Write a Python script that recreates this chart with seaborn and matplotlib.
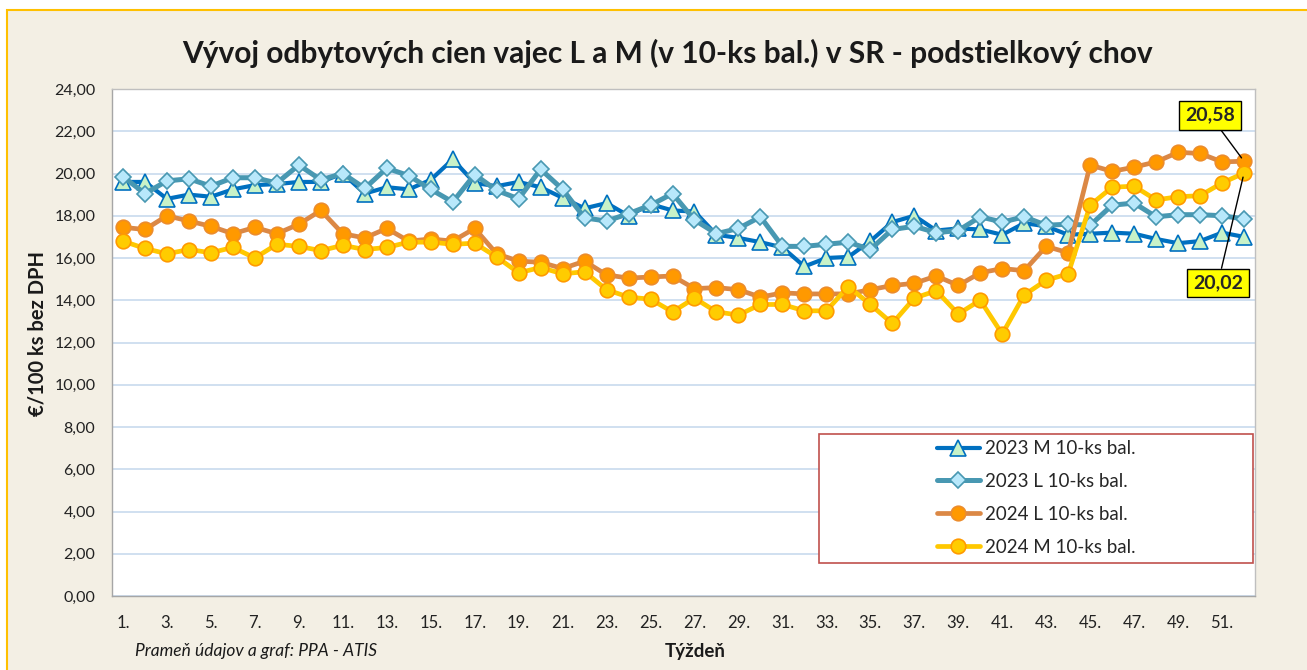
import numpy as np
import pandas as pd
import seaborn as sns
import matplotlib.pyplot as plt
from matplotlib.patches import Rectangle

# Weekly egg prices (EUR / 100 pcs excl. VAT), barn hens, 10-pack
weeks = list(range(1, 53))
m_2023 = [19.6, 19.6, 18.8, 19.0, 18.9, 19.25, 19.45, 19.5, 19.6, 19.6,
          20.0, 19.05, 19.35, 19.25, 19.7, 20.67, 19.55, 19.4, 19.6, 19.35,
          18.85, 18.35, 18.6, 18.0, 18.55, 18.25, 18.2, 17.1, 16.95, 16.75,
          16.5, 15.6, 16.0, 16.05, 16.8, 17.7, 18.0, 17.3, 17.4, 17.35,
          17.1, 17.65, 17.5, 17.1, 17.15, 17.2, 17.15, 16.9, 16.7, 16.8,
          17.2, 17.0]
l_2023 = [19.85, 19.05, 19.65, 19.75, 19.4, 19.8, 19.8, 19.55, 20.4, 19.7,
          20.0, 19.3, 20.25, 19.9, 19.25, 18.65, 19.95, 19.2, 18.8, 20.2,
          19.25, 17.9, 17.75, 18.1, 18.5, 19.05, 17.8, 17.15, 17.4, 17.95,
          16.55, 16.55, 16.65, 16.75, 16.4, 17.35, 17.5, 17.2, 17.3, 17.95,
          17.7, 17.95, 17.55, 17.6, 17.55, 18.5, 18.6, 17.95, 18.05, 18.05,
          18.0, 17.85]
l_2024 = [17.45, 17.35, 18.0, 17.75, 17.5, 17.15, 17.45, 17.15, 17.6, 18.25,
          17.15, 16.95, 17.4, 16.8, 16.9, 16.8, 17.4, 16.2, 15.85, 15.8,
          15.5, 15.85, 15.2, 15.05, 15.1, 15.15, 14.55, 14.6, 14.5, 14.15,
          14.35, 14.3, 14.3, 14.3, 14.5, 14.7, 14.8, 15.15, 14.7, 15.3,
          15.5, 15.4, 16.55, 16.25, 20.4, 20.1, 20.3, 20.55, 21.0, 20.95,
          20.55, 20.58]
m_2024 = [16.8, 16.45, 16.2, 16.4, 16.25, 16.5, 16.0, 16.65, 16.55, 16.35,
          16.6, 16.4, 16.5, 16.75, 16.75, 16.65, 16.7, 16.05, 15.3, 15.55,
          15.25, 15.35, 14.5, 14.15, 14.05, 13.45, 14.1, 13.45, 13.3, 13.8,
          13.8, 13.5, 13.5, 14.65, 13.8, 12.9, 14.1, 14.45, 13.35, 14.0,
          12.4, 14.25, 14.95, 15.25, 18.5, 19.35, 19.4, 18.75, 18.9, 18.95,
          19.55, 20.02]
labels = ["2023 M 10-ks bal.", "2023 L 10-ks bal.", "2024 L 10-ks bal.", "2024 M 10-ks bal."]
y_ticks = list(range(0, 25, 2))
x_ticks = list(range(1, 53, 2))


def fmt(v):
    return f"{v:.2f}".replace('.', ',')


sns.set_theme(style="white")
plt.rcParams['font.family'] = ['Lato', 'DejaVu Sans']

W, H = 1307, 670
fig = plt.figure(figsize=(W / 100, H / 100), dpi=100, facecolor='white')
# beige chart frame with yellow border
fig.patches.append(Rectangle((7 / W, -0.02), 1.0, 1.005, transform=fig.transFigure,
                             facecolor='#F3EFE4', edgecolor='#FFC000', lw=1.5, zorder=-10))

ax = fig.add_axes([112 / W, 1 - 596 / H, (1255 - 112) / W, (596 - 89) / H])
ax.set_zorder(1)
ax.set_facecolor('white')

# series styles
styles = [
    dict(color='#0070C0', marker='^', markersize=11, markerfacecolor='#C8F2C8',
         markeredgecolor='#0070C0', linewidth=3.0),
    dict(color='#4898B2', marker='D', markersize=8.5, markerfacecolor='#B8E8FB',
         markeredgecolor='#4898B2', linewidth=3.6),
    dict(color='#DB8845', marker='o', markersize=10.5, markerfacecolor='#FF9900',
         markeredgecolor='#EC8C2C', linewidth=3.4),
    dict(color='#FFC800', marker='o', markersize=10.5, markerfacecolor='#FFCC00',
         markeredgecolor='#FF9A00', linewidth=3.4),
]
for vals, lab, st in zip([m_2023, l_2023, l_2024, m_2024], labels, styles):
    sns.lineplot(x=weeks, y=vals, ax=ax, label=lab, markeredgewidth=1.2, **st)

ax.set_xlim(0.5, 52.5)
ax.set_ylim(0, 24)
ax.set_yticks(y_ticks)
ax.set_yticklabels([fmt(v) for v in y_ticks], fontsize=11.5, color='#222222')
ax.set_xticks(x_ticks)
ax.set_xticklabels([f"{w}." for w in x_ticks], fontsize=12, color='#222222')
ax.tick_params(axis='y', length=0, pad=12)
ax.tick_params(axis='x', length=0, pad=14)
ax.grid(axis='y', color='#C8DAEE', lw=1.2)
ax.set_axisbelow(True)
for s in ax.spines.values():
    s.set_color('#BFBFBF')
    s.set_linewidth(1.0)
ax.spines['left'].set_color('#A6A6A6')
ax.spines['bottom'].set_color('#A6A6A6')
ax.set_xlabel('')
ax.set_ylabel('')

# legend with its own framed box
ax.add_patch(Rectangle((819 / W, 1 - 563 / H), (1253 - 819) / W, (563 - 434) / H,
                       transform=fig.transFigure, facecolor='white', edgecolor='#C0504D',
                       lw=1.2, zorder=5, clip_on=False))
leg = ax.legend(loc='center', bbox_to_anchor=(1036 / W, 1 - 498 / H),
                bbox_transform=fig.transFigure, frameon=False, fontsize=13.5,
                handlelength=2.3, handletextpad=0.25, labelspacing=0.85)
leg.set_zorder(6)

# end-of-year value callouts
ax.annotate(fmt(l_2024[-1]), xy=(52, l_2024[-1]), xytext=(-34, 46), textcoords='offset pixels',
            ha='center', va='center', fontsize=14, fontweight='bold', zorder=7,
            bbox=dict(boxstyle='square,pad=0.3', fc='#FFFF00', ec='black', lw=1),
            arrowprops=dict(arrowstyle='-', color='black', lw=1, shrinkA=0, shrinkB=3))
ax.annotate(fmt(m_2024[-1]), xy=(52, m_2024[-1]), xytext=(-26, -110), textcoords='offset pixels',
            ha='center', va='center', fontsize=14, fontweight='bold', zorder=7,
            bbox=dict(boxstyle='square,pad=0.3', fc='#FFFF00', ec='black', lw=1),
            arrowprops=dict(arrowstyle='-', color='black', lw=1, shrinkA=0, shrinkB=3))

fig.text(667 / W, 1 - 53 / H, 'Vývoj odbytových cien vajec L a M (v 10-ks bal.) v SR - podstielkový chov',
         ha='center', va='center', fontsize=21.5, fontweight='bold', color='#1a1a1a')
fig.text(38 / W, 1 - 333 / H, '€/100 ks bez DPH', rotation=90, ha='center', va='center',
         fontsize=14.5, fontweight='bold', color='#1a1a1a')
fig.text(695 / W, 1 - 652 / H, 'Týždeň', ha='center', va='center', fontsize=13.5,
         fontweight='bold', color='#1a1a1a')
fig.text(135 / W, 1 - 651 / H, 'Prameň údajov a graf: PPA - ATIS', ha='left', va='center',
         fontsize=12.5, style='italic', color='#1a1a1a')

fig.savefig('out.png', dpi=100, facecolor=fig.get_facecolor())
